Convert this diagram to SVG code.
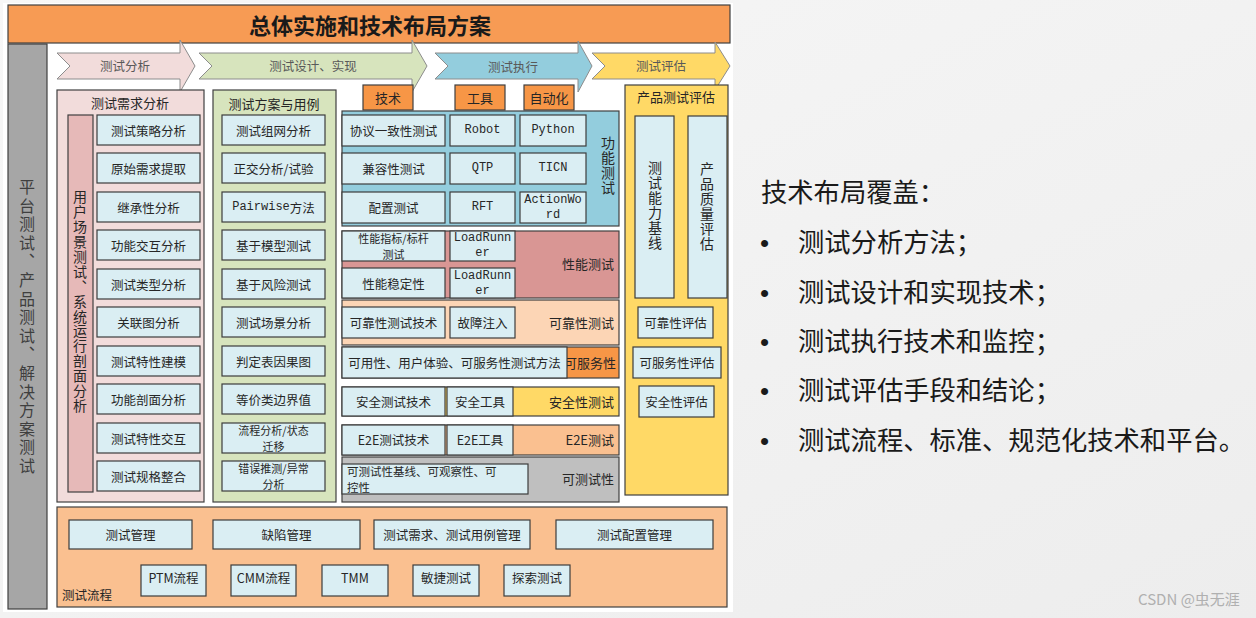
<svg xmlns="http://www.w3.org/2000/svg" width="1256" height="618" viewBox="0 0 1256 618">
<defs>
<linearGradient id="bg" x1="0" y1="0" x2="1" y2="1">
<stop offset="0" stop-color="#f7f7f7"/><stop offset="1" stop-color="#ededed"/>
</linearGradient>
<style>
.t{font-family:"Noto Sans CJK SC","Liberation Sans",sans-serif;font-size:12.5px;fill:#262626;text-anchor:middle;dominant-baseline:central}
.l{text-anchor:start}
.r{text-anchor:end}
.s{font-size:11px}
.m{font-family:"Liberation Mono","Noto Sans CJK SC",monospace;font-size:12px}
.box{fill:#DAEEF3;stroke:#3c3c3c;stroke-width:1.2}
.pn{stroke:#404040;stroke-width:1.2}
.arr{stroke:#8c8c8c;stroke-width:1}
.at{fill:#595959}
.vt{writing-mode:vertical-rl;text-anchor:start;font-size:14px;letter-spacing:1px}
.big{font-family:"Noto Sans CJK SC","Liberation Sans",sans-serif;font-size:26.3px;fill:#1a1a1a}
.bul{font-family:"Liberation Sans",sans-serif;font-size:26px;fill:#1a1a1a}
</style>
</defs>
<rect x="0" y="0" width="1256" height="618" fill="url(#bg)"/>
<rect x="3" y="3" width="730" height="609" fill="#ffffff"/>

<g id="title">
<rect x="8" y="5" width="722" height="38" fill="#F79B54" stroke="#404040" stroke-width="1.2"/>
<text class="t" x="370" y="24" style="font-size:22px;font-weight:bold;fill:#1a1a1a">总体实施和技术布局方案</text>
</g>

<g id="platform">
<rect x="8" y="44" width="39" height="565" fill="#A6A6A6" stroke="#404040" stroke-width="1.2"/>
<text class="t vt" x="27" y="179" style="font-size:16px;letter-spacing:2.6px;fill:#3f3f3f">平台测试、产品测试、解决方案测试</text>
</g>

<g id="connectors">
<g id="arrow-analysis">
<path class="arr" d="M57,53 L180,53 L180,40 L195,66 L180,92 L180,79 L57,79 L70,66 Z" fill="#F2DCDB"/>
<text class="t at" x="125" y="65">测试分析</text>
</g>
<g id="arrow-design">
<path class="arr" d="M199,53 L412,53 L412,40 L427,66 L412,92 L412,79 L199,79 L212,66 Z" fill="#D7E4BD"/>
<text class="t at" x="313" y="65">测试设计、实现</text>
</g>
<g id="arrow-exec">
<path class="arr" d="M435,53 L578,53 L578,41 L592,66 L578,92 L578,79 L435,79 L448,66 Z" fill="#93CDDD"/>
<text class="t at" x="513" y="66">测试执行</text>
</g>
<g id="arrow-eval">
<path class="arr" d="M592,53 L715,53 L715,42 L730,66 L715,90 L715,79 L592,79 L605,66 Z" fill="#FFD966"/>
<text class="t at" x="661" y="65">测试评估</text>
</g>
</g>

<g id="req-analysis">
<rect class="pn" x="57" y="90" width="147" height="412" fill="#F2DCDB"/>
<text class="t" x="130" y="102" style="font-size:13px">测试需求分析</text>
<rect class="pn" x="68" y="115" width="25" height="377" fill="#E6B9B8"/>
<text class="t vt" x="80" y="190" style="letter-spacing:0.9px">用户场景测试、系统运行剖面分析</text>
<rect class="box" x="97" y="115" width="103" height="30"/><text class="t" x="148.5" y="130">测试策略分析</text>
<rect class="box" x="97" y="153" width="103" height="30"/><text class="t" x="148.5" y="168">原始需求提取</text>
<rect class="box" x="97" y="192" width="103" height="30"/><text class="t" x="148.5" y="207">继承性分析</text>
<rect class="box" x="97" y="230" width="103" height="30"/><text class="t" x="148.5" y="245">功能交互分析</text>
<rect class="box" x="97" y="269" width="103" height="30"/><text class="t" x="148.5" y="284">测试类型分析</text>
<rect class="box" x="97" y="307" width="103" height="30"/><text class="t" x="148.5" y="322">关联图分析</text>
<rect class="box" x="97" y="346" width="103" height="30"/><text class="t" x="148.5" y="361">测试特性建模</text>
<rect class="box" x="97" y="384" width="103" height="30"/><text class="t" x="148.5" y="399">功能剖面分析</text>
<rect class="box" x="97" y="423" width="103" height="30"/><text class="t" x="148.5" y="438">测试特性交互</text>
<rect class="box" x="97" y="461" width="103" height="30"/><text class="t" x="148.5" y="476">测试规格整合</text>
</g>

<g id="design-cases">
<rect class="pn" x="213" y="90" width="123" height="412" fill="#D7E4BD"/>
<text class="t" x="274" y="103" style="font-size:13px">测试方案与用例</text>
<rect class="box" x="222" y="115" width="103" height="30"/><text class="t" x="273.5" y="130">测试组网分析</text>
<rect class="box" x="222" y="153" width="103" height="30"/><text class="t" x="273.5" y="168">正交分析/试验</text>
<rect class="box" x="222" y="192" width="103" height="30"/><text class="t" x="273.5" y="207"><tspan class="m">Pairwise</tspan>方法</text>
<rect class="box" x="222" y="230" width="103" height="30"/><text class="t" x="273.5" y="245">基于模型测试</text>
<rect class="box" x="222" y="269" width="103" height="30"/><text class="t" x="273.5" y="284">基于风险测试</text>
<rect class="box" x="222" y="307" width="103" height="30"/><text class="t" x="273.5" y="322">测试场景分析</text>
<rect class="box" x="222" y="346" width="103" height="30"/><text class="t" x="273.5" y="361">判定表因果图</text>
<rect class="box" x="222" y="384" width="103" height="30"/><text class="t" x="273.5" y="399">等价类边界值</text>
<rect class="box" x="222" y="423" width="103" height="30"/><text class="t s" x="273.5" y="430">流程分析/状态</text><text class="t s" x="273.5" y="446">迁移</text>
<rect class="box" x="222" y="461" width="103" height="30"/><text class="t s" x="273.5" y="468">错误推测/异常</text><text class="t s" x="273.5" y="484">分析</text>
</g>

<g id="tabs">
<rect class="pn" x="363" y="85" width="50" height="25" fill="#F79646"/><text class="t" x="388" y="97" style="font-size:13px">技术</text>
<rect class="pn" x="455" y="85" width="50" height="25" fill="#F79646"/><text class="t" x="480" y="97" style="font-size:13px">工具</text>
<rect class="pn" x="524" y="85" width="50" height="25" fill="#F79646"/><text class="t" x="549" y="97" style="font-size:13px">自动化</text>
</g>

<g id="functional">
<rect class="pn" x="342" y="111" width="277" height="115" fill="#93CDDD"/>
<rect class="box" x="342" y="115" width="103" height="31"/><text class="t" x="393.5" y="130">协议一致性测试</text>
<rect class="box" x="450" y="115" width="65" height="31"/><text class="t m" x="482.5" y="130">Robot</text>
<rect class="box" x="520" y="115" width="66" height="31"/><text class="t m" x="553" y="130">Python</text>
<rect class="box" x="342" y="153" width="103" height="31"/><text class="t" x="393.5" y="168">兼容性测试</text>
<rect class="box" x="450" y="153" width="65" height="31"/><text class="t m" x="482.5" y="168">QTP</text>
<rect class="box" x="520" y="153" width="66" height="31"/><text class="t m" x="553" y="168">TICN</text>
<rect class="box" x="342" y="192" width="103" height="31"/><text class="t" x="393.5" y="207">配置测试</text>
<rect class="box" x="450" y="192" width="65" height="31"/><text class="t m" x="482.5" y="207">RFT</text>
<rect class="box" x="520" y="192" width="66" height="31"/><text class="t m" x="553" y="199.5">ActionWo</text><text class="t m" x="553" y="214.5">rd</text>
<text class="t vt" x="608" y="136">功能测试</text>
</g>

<g id="performance">
<rect class="pn" x="342" y="231" width="277" height="67" fill="#D99694"/>
<rect class="box" x="342" y="231" width="103" height="30"/><text class="t s" x="393.5" y="238">性能指标/标杆</text><text class="t s" x="393.5" y="254">测试</text>
<rect class="box" x="450" y="231" width="65" height="30"/><text class="t m" x="482.5" y="238">LoadRunn</text><text class="t m" x="482.5" y="253">er</text>
<rect class="box" x="342" y="268" width="103" height="30"/><text class="t" x="393.5" y="283">性能稳定性</text>
<rect class="box" x="450" y="268" width="65" height="30"/><text class="t m" x="482.5" y="276">LoadRunn</text><text class="t m" x="482.5" y="291">er</text>
<text class="t r" x="614" y="263" style="font-size:13px">性能测试</text>
</g>

<g id="reliability">
<rect class="pn" x="342" y="300" width="277" height="45" fill="#FCD5B5"/>
<rect class="box" x="342" y="307" width="103" height="31"/><text class="t" x="393.5" y="322">可靠性测试技术</text>
<rect class="box" x="450" y="307" width="65" height="31"/><text class="t" x="482.5" y="322">故障注入</text>
<text class="t r" x="614" y="322" style="font-size:13px">可靠性测试</text>
</g>

<g id="serviceability">
<rect class="pn" x="342" y="347" width="277" height="31" fill="#F79646"/>
<text class="t r" x="616" y="362" style="font-size:13px">可服务性</text>
<rect class="box" x="342" y="347" width="225" height="31"/><text class="t" x="454.5" y="362">可用性、用户体验、可服务性测试方法</text>
</g>

<g id="security">
<rect class="pn" x="342" y="387" width="277" height="29" fill="#FFD966"/>
<rect class="box" x="342" y="387" width="103" height="29"/><text class="t" x="393.5" y="401">安全测试技术</text>
<rect class="box" x="447" y="387" width="66" height="29"/><text class="t" x="480" y="401">安全工具</text>
<text class="t r" x="614" y="401" style="font-size:13px">安全性测试</text>
</g>

<g id="e2e">
<rect class="pn" x="342" y="425" width="277" height="30" fill="#FAC090"/>
<rect class="box" x="342" y="425" width="103" height="30"/><text class="t" x="393.5" y="439">E2E测试技术</text>
<rect class="box" x="447" y="425" width="66" height="30"/><text class="t" x="480" y="439">E2E工具</text>
<text class="t r" x="614" y="439" style="font-size:13px">E2E测试</text>
</g>

<g id="testability">
<rect class="pn" x="342" y="457" width="277" height="45" fill="#BFBFBF"/>
<rect class="box" x="342" y="464" width="186" height="30"/><text class="t l" x="347" y="471" style="font-size:11.5px">可测试性基线、可观察性、可</text><text class="t l s" x="347" y="487" style="font-size:11.5px">控性</text>
<text class="t r" x="614" y="478" style="font-size:13px">可测试性</text>
</g>

<g id="product-eval">
<rect class="pn" x="625" y="85" width="103" height="410" fill="#FFD966"/>
<text class="t" x="676" y="96" style="font-size:13px">产品测试评估</text>
<rect class="box" x="635" y="116" width="39" height="182"/>
<text class="t vt" x="655" y="161">测试能力基线</text>
<rect class="box" x="688" y="116" width="39" height="182"/>
<text class="t vt" x="707" y="162">产品质量评估</text>
<rect class="box" x="638" y="307" width="75" height="31"/><text class="t" x="675.5" y="322">可靠性评估</text>
<rect class="box" x="633" y="347" width="88" height="31"/><text class="t" x="677" y="362">可服务性评估</text>
<rect class="box" x="639" y="386" width="75" height="31"/><text class="t" x="676.5" y="401">安全性评估</text>
</g>

<g id="process">
<rect class="pn" x="57" y="507" width="670" height="100" fill="#FAC090"/>
<rect class="box" x="69" y="520" width="123" height="29"/><text class="t" x="130.5" y="534">测试管理</text>
<rect class="box" x="213" y="520" width="147" height="29"/><text class="t" x="286.5" y="534">缺陷管理</text>
<rect class="box" x="374" y="520" width="156" height="29"/><text class="t" x="452" y="534">测试需求、测试用例管理</text>
<rect class="box" x="556" y="520" width="157" height="29"/><text class="t" x="634.5" y="534">测试配置管理</text>
<rect class="box" x="141" y="565" width="65" height="31"/><text class="t" x="173.5" y="577">PTM流程</text>
<rect class="box" x="231" y="565" width="65" height="31"/><text class="t" x="263.5" y="577">CMM流程</text>
<rect class="box" x="322" y="565" width="66" height="31"/><text class="t" x="355" y="577">TMM</text>
<rect class="box" x="413" y="565" width="66" height="31"/><text class="t" x="446" y="577">敏捷测试</text>
<rect class="box" x="504" y="565" width="66" height="31"/><text class="t" x="537" y="577">探索测试</text>
<text class="t l" x="62" y="594">测试流程</text>
</g>

<g id="coverage">
<text class="big" x="761" y="202">技术布局覆盖：</text>
<text class="bul" x="760" y="252">•</text><text class="big" x="798" y="252">测试分析方法；</text>
<text class="bul" x="760" y="302">•</text><text class="big" x="798" y="302">测试设计和实现技术；</text>
<text class="bul" x="760" y="351">•</text><text class="big" x="798" y="351">测试执行技术和监控；</text>
<text class="bul" x="760" y="400">•</text><text class="big" x="798" y="400">测试评估手段和结论；</text>
<text class="bul" x="760" y="450">•</text><text class="big" x="798" y="450">测试流程、标准、规范化技术和平台。</text>
</g>

<g id="watermark">
<text x="1138" y="605" style="font-family:'Noto Sans CJK SC','Liberation Sans',sans-serif;font-size:15px;fill:#b0b0b0">CSDN @虫无涯</text>
</g>
</svg>
